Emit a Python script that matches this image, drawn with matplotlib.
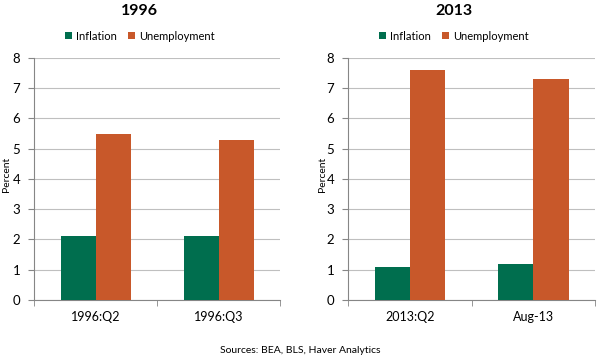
import numpy as np
import matplotlib.pyplot as plt

plt.rcParams['font.family'] = ['Lato', 'DejaVu Sans']

# data
cats_1996 = ["1996:Q2", "1996:Q3"]
infl_1996 = [2.1, 2.1]
unemp_1996 = [5.5, 5.3]

cats_2013 = ["2013:Q2", "Aug-13"]
infl_2013 = [1.1, 1.2]
unemp_2013 = [7.6, 7.3]

green = "#006E4E"
orange = "#C8582A"
grid_col = "#BFBFBF"

fig = plt.figure(figsize=(6, 3.57), dpi=100)
ax1 = fig.add_axes([0.057, 0.16, 0.41, 0.6775])
ax2 = fig.add_axes([0.58, 0.16, 0.412, 0.6775])

def panel(ax, title, cats, infl, unemp, title_x, ylab_x):
    x = np.arange(len(cats))
    w = 0.285
    ax.bar(x - w/2, infl, w, color=green, label="Inflation", zorder=3)
    ax.bar(x + w/2, unemp, w, color=orange, label="Unemployment", zorder=3)
    ax.set_xlim(-0.5, len(cats) - 0.5)
    ax.set_ylim(0, 8)
    ax.set_yticks(range(0, 9))
    ax.set_xticks(x)
    ax.set_xticklabels(cats)
    ax.set_xticks(np.arange(-0.5, len(cats), 1), minor=True)
    ax.tick_params(axis="x", which="major", length=0, labelsize=9, pad=8)
    ax.tick_params(axis="x", which="minor", length=4, color="#868686", direction="out")
    ax.tick_params(axis="y", length=4, color="#868686", labelsize=9.5, pad=6)
    ax.yaxis.grid(True, color=grid_col, linewidth=0.8, zorder=0)
    for s in ["top", "right"]:
        ax.spines[s].set_visible(False)
    for s in ["left", "bottom"]:
        ax.spines[s].set_color("#868686")
    ax.set_ylabel("Percent", fontsize=7.5, va="center")
    ax.yaxis.set_label_coords(ylab_x, 0.52)
    fig.text(title_x, 0.968, title, ha="center", va="center", fontsize=11.5, fontweight="bold")
    ax.legend(loc="center", bbox_to_anchor=(title_x, 0.899), bbox_transform=fig.transFigure,
              ncol=2, frameon=False, fontsize=8, handlelength=0.6, handleheight=0.6,
              handletextpad=0.4, columnspacing=1.0, borderaxespad=0)

panel(ax1, "1996", cats_1996, infl_1996, unemp_1996, 0.233, -0.112)
panel(ax2, "2013", cats_2013, infl_2013, unemp_2013, 0.757, -0.105)

fig.text(0.5, 0.01, "Sources: BEA, BLS, Haver Analytics", ha="center", fontsize=7.5)

plt.savefig("out.png", dpi=100)
